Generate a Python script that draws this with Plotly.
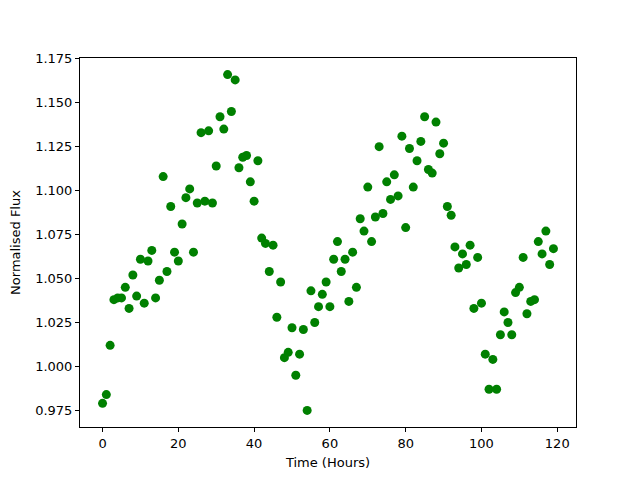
import plotly.graph_objects as go

time_hours = list(range(120))
flux = [0.979, 0.984, 1.012, 1.038, 1.039, 1.039, 1.045, 1.033, 1.052, 1.040,
        1.061, 1.036, 1.060, 1.066, 1.039, 1.049, 1.108, 1.054, 1.091, 1.065,
        1.060, 1.081, 1.096, 1.101, 1.065, 1.093, 1.133, 1.094, 1.134, 1.093,
        1.114, 1.142, 1.135, 1.166, 1.145, 1.163, 1.113, 1.119, 1.120, 1.105,
        1.094, 1.117, 1.073, 1.070, 1.054, 1.069, 1.028, 1.048, 1.005, 1.008,
        1.022, 0.995, 1.007, 1.021, 0.975, 1.043, 1.025, 1.034, 1.041, 1.048,
        1.034, 1.061, 1.071, 1.054, 1.061, 1.037, 1.065, 1.045, 1.084, 1.077,
        1.102, 1.071, 1.085, 1.125, 1.087, 1.105, 1.095, 1.109, 1.097, 1.131,
        1.079, 1.124, 1.102, 1.117, 1.128, 1.142, 1.112, 1.110, 1.139, 1.121,
        1.127, 1.091, 1.086, 1.068, 1.056, 1.064, 1.058, 1.069, 1.033, 1.062,
        1.036, 1.007, 0.987, 1.004, 0.987, 1.018, 1.031, 1.025, 1.018, 1.042,
        1.045, 1.062, 1.030, 1.037, 1.038, 1.071, 1.064, 1.077, 1.058, 1.067]

x_ticks = [0, 20, 40, 60, 80, 100, 120]
y_ticks = [0.975, 1.000, 1.025, 1.050, 1.075, 1.100, 1.125, 1.150, 1.175]

fig = go.Figure(go.Scatter(
    x=time_hours, y=flux, mode="markers",
    marker=dict(color="#008000", size=9, line=dict(width=0)),
))

axis_common = dict(showgrid=False, zeroline=False, showline=True, linecolor="black",
                   linewidth=1, mirror=True, ticks="outside", ticklen=4, tickcolor="black",
                   automargin=False,
                   tickfont=dict(family="DejaVu Sans", size=13, color="black"))

fig.update_layout(
    width=640, height=480,
    margin=dict(l=72, r=72, t=50, b=61),
    paper_bgcolor="white", plot_bgcolor="white",
    font=dict(family="DejaVu Sans", size=13, color="black"),
    showlegend=False,
    xaxis=dict(range=[-5.95, 124.95], tickvals=x_ticks, ticktext=[str(t) for t in x_ticks],
               title=dict(text="Time (Hours)", standoff=8, font=dict(family="DejaVu Sans", size=13)),
               **axis_common),
    yaxis=dict(range=[0.96555, 1.17545], tickvals=y_ticks, ticktext=[f"{t:.3f}" for t in y_ticks],
               title=dict(text="Normalised Flux", standoff=14, font=dict(family="DejaVu Sans", size=13)),
               **axis_common),
)

fig.write_html("out.html")
